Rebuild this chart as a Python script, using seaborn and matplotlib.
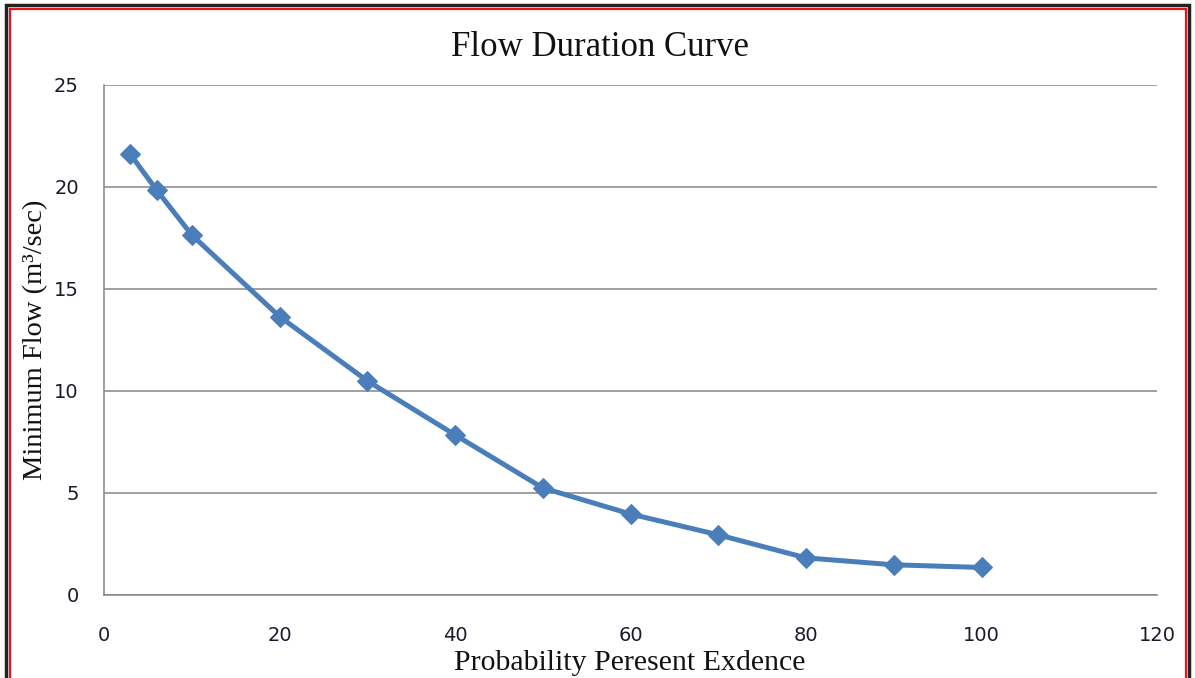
import matplotlib
matplotlib.use("Agg")
import matplotlib.pyplot as plt
from matplotlib.patches import Rectangle
import seaborn as sns
import pandas as pd

# Data
exceedance = [3, 6, 10, 20, 30, 40, 50, 60, 70, 80, 90, 100]
min_flow = [21.6, 19.85, 17.65, 13.65, 10.5, 7.85, 5.25, 3.97, 2.95, 1.82, 1.48, 1.35]
x_ticks = [0, 20, 40, 60, 80, 100, 120]
y_ticks = [0, 5, 10, 15, 20, 25]

title = "Flow Duration Curve"
xlabel = "Probability Peresent Exdence"
ylabel = "Minimum Flow (m³/sec)"

sns.set_theme(style="white")
plt.rcParams['font.family'] = ['DejaVu Sans']

df = pd.DataFrame({"x": exceedance, "y": min_flow})

fig = plt.figure(figsize=(11.95, 6.78), dpi=100)
ax = fig.add_axes([104/1195, 1-595/678, (1157-104)/1195, (595-85)/678])

sns.lineplot(data=df, x="x", y="y", ax=ax, color="#4A7EBB", linewidth=3.6,
             marker="D", markersize=10, markeredgecolor="#4A7EBB")

ax.set_xlim(0, 120)
ax.set_ylim(0, 25)
ax.set_xticks(x_ticks)
ax.set_yticks(y_ticks)
ax.grid(axis="y", color="#858585", linewidth=1.1)
ax.grid(axis="x", visible=False)
for s in ["top", "right"]:
    ax.spines[s].set_visible(False)
for s in ["left", "bottom"]:
    ax.spines[s].set_color("#858585")
    ax.spines[s].set_linewidth(1.1)
ax.tick_params(axis="x", length=0, pad=22, labelsize=14, labelcolor="#1a1a2a")
ax.tick_params(axis="y", length=0, pad=18, labelsize=14, labelcolor="#1a1a2a")

serif = ['Liberation Serif', 'DejaVu Serif']
ax.set_xlabel(xlabel, family=serif, fontsize=21.5, color="#111111")
ax.xaxis.set_label_coords((630-104)/1053, -(650-595)/510)
ax.set_ylabel(ylabel, family=serif, fontsize=20.5, color="#111111", labelpad=4)
fig.text(600/1195, 1-47/678, title, family=serif, fontsize=25, color="#111111",
         ha="center", va="center")

# Figure frame: outer dark line and inner red line
fig.patches.append(Rectangle((6/1195, -0.01), (1189-6)/1195, (678-5)/678 + 0.01,
                             transform=fig.transFigure, fill=False,
                             edgecolor="#222222", linewidth=2.5, zorder=10))
fig.patches.append(Rectangle((9.5/1195, -0.01), (1185.5-9.5)/1195, (678-8.5)/678 + 0.01,
                             transform=fig.transFigure, fill=False,
                             edgecolor="#E8141B", linewidth=1.6, zorder=11))

fig.savefig("out.png", dpi=100)
